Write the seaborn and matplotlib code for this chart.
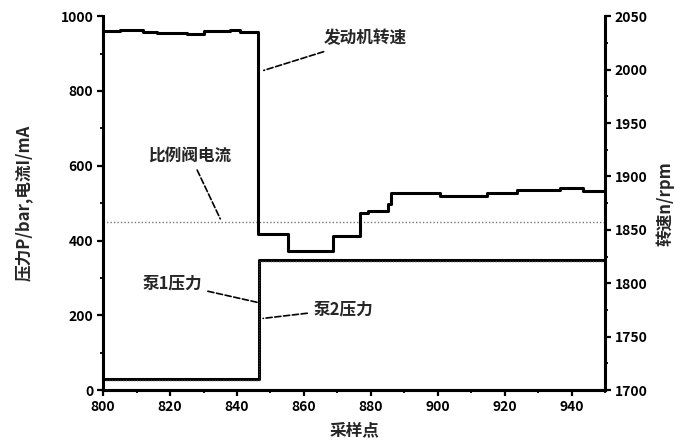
import numpy as np
import pandas as pd
import matplotlib
matplotlib.use('Agg')
import matplotlib.pyplot as plt
import seaborn as sns
from matplotlib.ticker import MultipleLocator

sns.set_theme(style="ticks")
plt.rcParams['font.family'] = ['Noto Sans CJK SC', 'DejaVu Sans']
plt.rcParams['axes.unicode_minus'] = False

# engine speed (right axis, rpm), step data
speed_x = [800, 805, 812, 816, 825, 830, 838, 841, 846.3, 855.3, 868.7, 876.8, 879, 885, 886,
           900.7, 914.7, 923.7, 936.5, 943.4, 950]
speed_y = [2036, 2037, 2035, 2034, 2033, 2036, 2037, 2035, 1846, 1830, 1844, 1866, 1868, 1874, 1884.5,
           1882, 1884.5, 1887, 1889.5, 1886.5, 1886.5]

# proportional valve current (left axis, mA)
valve_x = [800, 950]
valve_y = [450, 450]

# pump pressures (left axis, bar)
pump1_x = [800, 846.5, 950]
pump1_y = [30, 348, 348]
pump2_x = [800, 846.5, 950]
pump2_y = [28, 345, 345]

fig = plt.figure(figsize=(6.74, 4.48), dpi=100)
ax = fig.add_axes([0.153, 0.129, 0.745, 0.835])
ax2 = ax.twinx()

sns.lineplot(x=pump1_x, y=pump1_y, ax=ax, color='black', lw=2.2, drawstyle='steps-post')
sns.lineplot(x=pump2_x, y=pump2_y, ax=ax, color='#333333', lw=1.0, ls=(0, (1, 1)), drawstyle='steps-post')
sns.lineplot(x=valve_x, y=valve_y, ax=ax, color='#777777', lw=1.0, ls=(0, (1, 1.5)))
sns.lineplot(x=speed_x, y=speed_y, ax=ax2, color='black', lw=2.2, drawstyle='steps-post')

ax.set_xlim(800, 950)
ax.set_ylim(0, 1000)
ax2.set_ylim(1700, 2050)
ax.xaxis.set_major_locator(MultipleLocator(20))
ax.xaxis.set_minor_locator(MultipleLocator(10))
ax.yaxis.set_major_locator(MultipleLocator(200))
ax.yaxis.set_minor_locator(MultipleLocator(100))
ax2.yaxis.set_major_locator(MultipleLocator(50))
ax2.yaxis.set_minor_locator(MultipleLocator(25))

for a in (ax, ax2):
    a.spines['top'].set_visible(False)
    for s in ('left', 'right', 'bottom'):
        a.spines[s].set_linewidth(2.2)
        a.spines[s].set_color('black')
    a.tick_params(which='major', direction='out', length=4, width=1.6, colors='black', labelsize=10, pad=3)
    a.tick_params(which='minor', direction='out', length=2.5, width=1.3, colors='black')
    for lab in a.get_xticklabels() + a.get_yticklabels():
        lab.set_fontweight('bold')
ax2.spines['left'].set_visible(False)
ax.spines['right'].set_visible(False)

ax.set_xlabel('采样点', fontsize=12, fontweight='bold', labelpad=5)
ax.set_ylabel('压力P/bar,电流I/mA', fontsize=12, fontweight='bold', labelpad=20)
ax2.set_ylabel('转速n/rpm', fontsize=12, fontweight='bold', labelpad=6)

arrow = dict(arrowstyle='-', color='black', lw=1.2, ls='--', shrinkA=2, shrinkB=0)
ax.annotate('发动机转速', xy=(848, 855), xytext=(866, 940), ha='left', va='center',
            fontsize=12, fontweight='bold', arrowprops=arrow)
ax.annotate('比例阀电流', xy=(835, 458), xytext=(826, 628), ha='center', va='center',
            fontsize=12, fontweight='bold', arrowprops=arrow)
ax.annotate('泵1压力', xy=(846, 235), xytext=(820.6, 286), ha='center', va='center',
            fontsize=12, fontweight='bold', arrowprops=arrow)
ax.annotate('泵2压力', xy=(847.8, 192), xytext=(871.7, 217), ha='center', va='center',
            fontsize=12, fontweight='bold', arrowprops=arrow)

fig.savefig('out.png', dpi=100, facecolor='white')
